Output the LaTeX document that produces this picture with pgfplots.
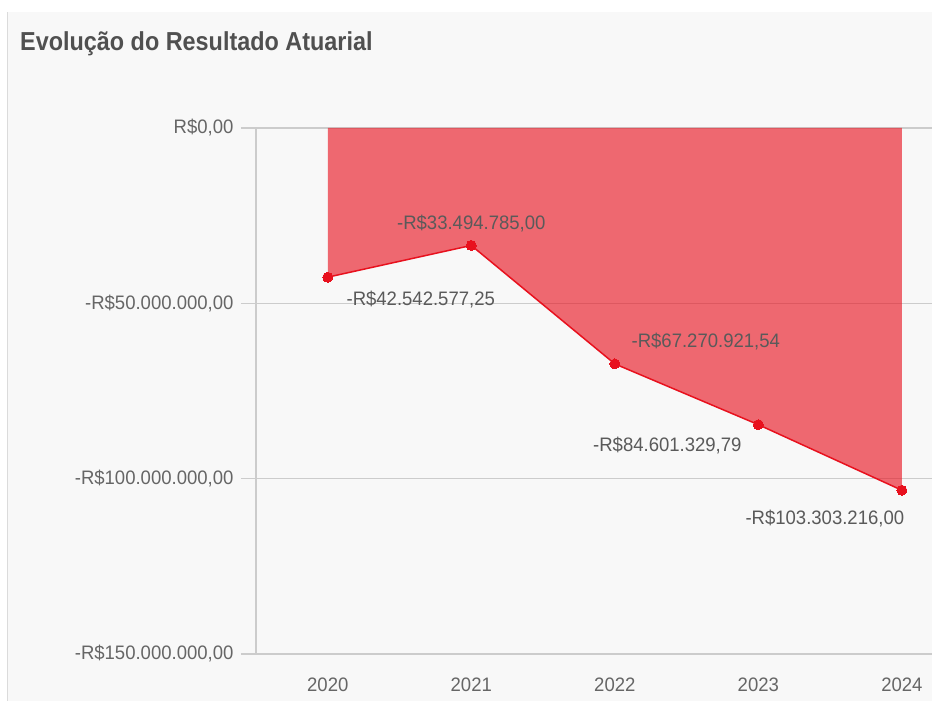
\documentclass[border=0pt]{standalone}
\usepackage{fontspec}
\setmainfont{Liberation Sans}
\newfontfamily\titlefont[FakeStretch=0.9]{Liberation Sans}
\newfontfamily\lfont[FakeStretch=0.95]{Liberation Sans}
\usepackage{pgfplots}
\pgfplotsset{compat=1.18}
\definecolor{bg}{HTML}{F8F8F8}
\definecolor{gridc}{HTML}{CCCCCC}
\definecolor{txt}{HTML}{666666}
\definecolor{lbl}{HTML}{5A5A5A}
\definecolor{ttl}{HTML}{505050}
\definecolor{redc}{RGB}{232,17,30}
\begin{document}
\begin{tikzpicture}
\fill[white] (-256pt,-47pt) rectangle (676pt,654pt);
\fill[bg] (-248pt,-47pt) rectangle (676pt,642pt);
\draw[gridc!70, line width=1pt] (-248pt,-47pt) -- (-248pt,642pt);
\node[anchor=base west, font=\titlefont\bfseries\fontsize{26}{30}\selectfont, text=ttl, inner sep=0pt] at (-236pt,603pt) {Evolução do Resultado Atuarial};
\begin{axis}[at={(0,0)}, anchor=south west, scale only axis,
  width=676pt, height=526pt,
  xmin=-0.5, xmax=4.21, ymin=-150000000, ymax=0,
  scaled y ticks=false,
  axis y line*=left, axis x line*=bottom,
  axis line style={-, draw=gridc, line width=1.2pt},
  x axis line style={draw=none},
  xtick={0,1,2,3,4}, xticklabels={2020,2021,2022,2023,2024},
  ytick={-150000000,-100000000,-50000000,0},
  yticklabels={-R\$150.000.000{,}00,-R\$100.000.000{,}00,-R\$50.000.000{,}00,R\$0{,}00},
  tick align=outside, major tick length=15pt,
  ytick style={draw=gridc, line width=1.2pt},
  xtick style={draw=none},
  ymajorgrids, grid style={draw=gridc, line width=1.2pt},
  yticklabel style={font=\lfont\fontsize{19.5}{22}\selectfont, text=txt, xshift=-4pt},
  xticklabel style={font=\lfont\fontsize{19.5}{22}\selectfont, text=txt, yshift=-5pt},
  clip=false,
]
\addplot[draw=none, fill=redc, fill opacity=0.62] coordinates {(0,0) (0,-42542577.25) (1,-33494785) (2,-67270921.54) (3,-84601329.79) (4,-103303216) (4,0)} -- cycle;
\addplot[redc, line width=1.5pt, mark=*, mark size=5pt, mark options={fill=redc, draw=redc, line width=0pt}] coordinates {(0,-42542577.25) (1,-33494785) (2,-67270921.54) (3,-84601329.79) (4,-103303216)};
\node[font=\lfont\fontsize{19.5}{22}\selectfont, text=lbl, xshift=93pt, yshift=-22pt] at (axis cs:0,-42542577.25) {-R\$42.542.577,25};
\node[font=\lfont\fontsize{19.5}{22}\selectfont, text=lbl, xshift=0pt, yshift=22pt] at (axis cs:1,-33494785) {-R\$33.494.785,00};
\node[font=\lfont\fontsize{19.5}{22}\selectfont, text=lbl, xshift=91pt, yshift=22pt] at (axis cs:2,-67270921.54) {-R\$67.270.921,54};
\node[font=\lfont\fontsize{19.5}{22}\selectfont, text=lbl, xshift=-91pt, yshift=-21pt] at (axis cs:3,-84601329.79) {-R\$84.601.329,79};
\node[font=\lfont\fontsize{19.5}{22}\selectfont, text=lbl, xshift=-77pt, yshift=-28pt] at (axis cs:4,-103303216) {-R\$103.303.216,00};
\end{axis}
\pgfresetboundingbox
\path[use as bounding box] (-256pt,-47pt) rectangle (676pt,654pt);
\end{tikzpicture}
\end{document}
